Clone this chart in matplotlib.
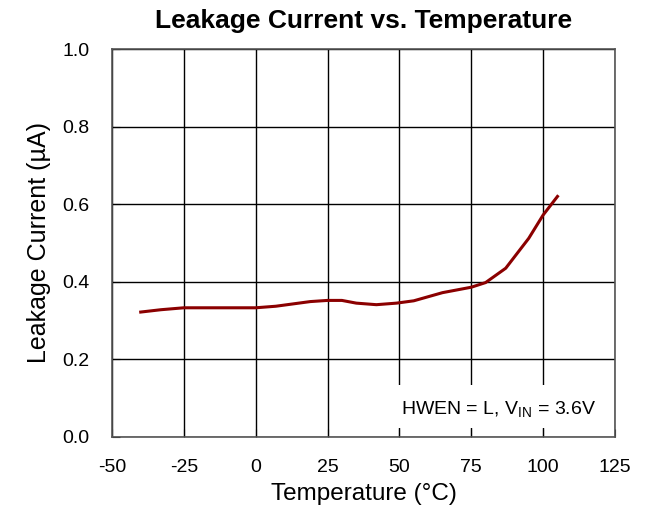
import matplotlib
matplotlib.use("Agg")
import matplotlib.pyplot as plt
from matplotlib.patches import Rectangle

temp_c = [-40, -33, -25, 0, 7, 19, 25, 30, 35, 42, 49, 55, 65, 75, 80, 87, 95, 100, 105]
leak_ua = [0.322, 0.328, 0.333, 0.333, 0.337, 0.349, 0.352, 0.352, 0.345, 0.341,
           0.345, 0.351, 0.372, 0.386, 0.398, 0.435, 0.512, 0.572, 0.620]
x_ticks = [-50, -25, 0, 25, 50, 75, 100, 125]
y_ticks = [0.0, 0.2, 0.4, 0.6, 0.8, 1.0]

plt.rcParams['font.family'] = ['Liberation Sans', 'DejaVu Sans']
plt.rcParams['axes.unicode_minus'] = False

fig = plt.figure(figsize=(6.48, 5.18), dpi=100)
ax = fig.add_axes([0.1728, 0.1564, 0.7762, 0.749])

ax.plot(temp_c, leak_ua, color='#8b0000', lw=2.2, zorder=3)

ax.set_xlim(-50, 125)
ax.set_ylim(0, 1.0)
ax.set_xticks(x_ticks)
ax.set_xticklabels([str(v) for v in x_ticks])
ax.set_yticks(y_ticks)
ax.set_yticklabels([f"{v:.1f}" for v in y_ticks])
ax.grid(True, color='black', lw=1)
ax.tick_params(direction='in', labelsize=14, length=6)
ax.tick_params(axis='x', pad=16)
ax.tick_params(axis='y', pad=16)
for s in ax.spines.values():
    s.set_color('#555555')
    s.set_linewidth(1.2)

ax.set_xlabel("Temperature (°C)", fontsize=17.5, labelpad=5)
ax.set_ylabel("Leakage Current (µA)", fontsize=18, labelpad=8)
ax.set_title("Leakage Current vs. Temperature", fontsize=19, fontweight='bold', pad=15)

# white label box over the grid
ax.add_patch(Rectangle((0.5626, 0.023), 0.434, 0.111, transform=ax.transAxes,
                       facecolor='white', edgecolor='none', zorder=2.6))
ax.text(0.963, 0.07, r"HWEN = L, V$_{\mathregular{IN}}$ = 3.6V", transform=ax.transAxes,
        ha='right', va='center', fontsize=14, zorder=4)

fig.savefig("out.png", dpi=100)
